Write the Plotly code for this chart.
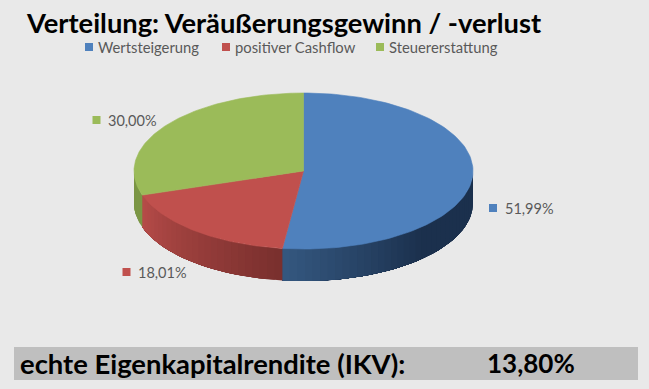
import numpy as np
import plotly.graph_objects as go

categories = ["Wertsteigerung", "positiver Cashflow", "Steuererstattung"]
shares = [51.99, 18.01, 30.00]
share_labels = ["51,99%", "18,01%", "30,00%"]
colors = ["#4F81BD", "#C0504D", "#9BBB59"]
wall_light = ["#34577F", "#B54B48", "#8CA850"]
wall_dark = ["#1B304D", "#7A302E", "#6F8A3D"]
title = "Verteilung: Veräußerungsgewinn / -verlust"
footer_label = "echte Eigenkapitalrendite (IKV):"
footer_value = "13,80%"

W, H = 649, 389
CX, CY, RX, RY, DEPTH = 303.5, 171, 169.5, 78, 32
BG = "#E9E9E9"
TXT = "#595959"
FONT = "Lato"


def hex2rgb(c):
    return np.array([int(c[i:i + 2], 16) for i in (1, 3, 5)], float)


def mix(a, b, t):
    r = hex2rgb(a) * (1 - t) + hex2rgb(b) * t
    return "rgb(%d,%d,%d)" % tuple(r.round())


def ex(a):
    return CX + RX * np.sin(a)


def ey(a):
    return CY - RY * np.cos(a)


fig = go.Figure()
edges = np.radians(np.concatenate([[0], np.cumsum(shares)]) * 3.6)


def poly(x, y, color, lw=0.0):
    fig.add_trace(go.Scatter(x=list(x), y=list(y), mode="lines", fill="toself", fillcolor=color,
                             line=dict(color=color, width=lw), hoverinfo="skip", showlegend=False))


# side walls: only the visible front half of the rim, painted from one end so strips overlap
for i in range(3):
    a0, a1 = edges[i], edges[i + 1]
    lo, hi = max(a0, np.pi / 2), min(a1, 3 * np.pi / 2)
    if hi <= lo:
        continue
    n = max(6, int((hi - lo) / np.radians(2.5)))
    steps = np.linspace(lo, hi, n + 1)
    for k in range(n):
        t = k / max(n - 1, 1)
        if i == 0:
            t2 = min(1.0, (1 - t) * 1.9)
        elif i == 1:
            t2 = 1 - t
        else:
            t2 = 0.6
        c = mix(wall_light[i], wall_dark[i], t2)
        s = np.linspace(steps[k], hi, max(3, n - k + 2))
        poly(np.r_[ex(s), ex(s[::-1])], np.r_[ey(s), ey(s[::-1]) + DEPTH], c)

# top face
for i in range(3):
    s = np.linspace(edges[i], edges[i + 1], 120)
    poly(np.r_[CX, ex(s), CX], np.r_[CY, ey(s), CY], colors[i], 0.6)

# legend
leg_sq_x = [89, 226, 380]
leg_txt_x = [96, 233, 387]
leg_y = 47
fig.add_trace(go.Scatter(x=leg_sq_x, y=[leg_y] * 3, mode="markers",
                         marker=dict(symbol="square", size=8, color=colors),
                         hoverinfo="skip", showlegend=False))
for x, name in zip(leg_txt_x, categories):
    fig.add_annotation(x=x, y=leg_y, text=name, xanchor="left", yanchor="middle", showarrow=False,
                       font=dict(family=FONT, size=14.8, color=TXT))

# data labels
lab_sq_x = [493, 126.5, 96.5]
lab_y = [208, 272, 120]
lab_txt_x = [503, 136, 106]
fig.add_trace(go.Scatter(x=lab_sq_x, y=lab_y, mode="markers",
                         marker=dict(symbol="square", size=8, color=colors),
                         hoverinfo="skip", showlegend=False))
for x, y, s in zip(lab_txt_x, lab_y, share_labels):
    fig.add_annotation(x=x, y=y, text=s, xanchor="left", yanchor="middle", showarrow=False,
                       font=dict(family=FONT, size=14.5, color=TXT))

# title and footer
fig.add_annotation(x=24, y=22, text=f"<b>{title}</b>", xanchor="left", yanchor="middle", showarrow=False,
                   font=dict(family=FONT, size=27.3, color="#000000"))
fig.add_shape(type="rect", x0=14, x1=638, y0=347, y1=380, fillcolor="#BFBFBF", line_width=0, layer="below")
fig.add_annotation(x=18, y=363, text=f"<b>{footer_label}</b>", xanchor="left", yanchor="middle", showarrow=False,
                   font=dict(family=FONT, size=27.4, color="#000000"))
fig.add_annotation(x=485, y=363, text=f"<b>{footer_value}</b>", xanchor="left", yanchor="middle", showarrow=False,
                   font=dict(family=FONT, size=26, color="#000000"))

fig.update_layout(width=W, height=H, margin=dict(l=0, r=0, t=0, b=0), paper_bgcolor=BG, plot_bgcolor=BG,
                  showlegend=False,
                  xaxis=dict(range=[0, W], visible=False, fixedrange=True),
                  yaxis=dict(range=[H, 0], visible=False, fixedrange=True))
fig.write_html("out.html", config={"displayModeBar": False},
               post_script="document.body.style.margin='0';document.body.style.overflow='hidden';")
